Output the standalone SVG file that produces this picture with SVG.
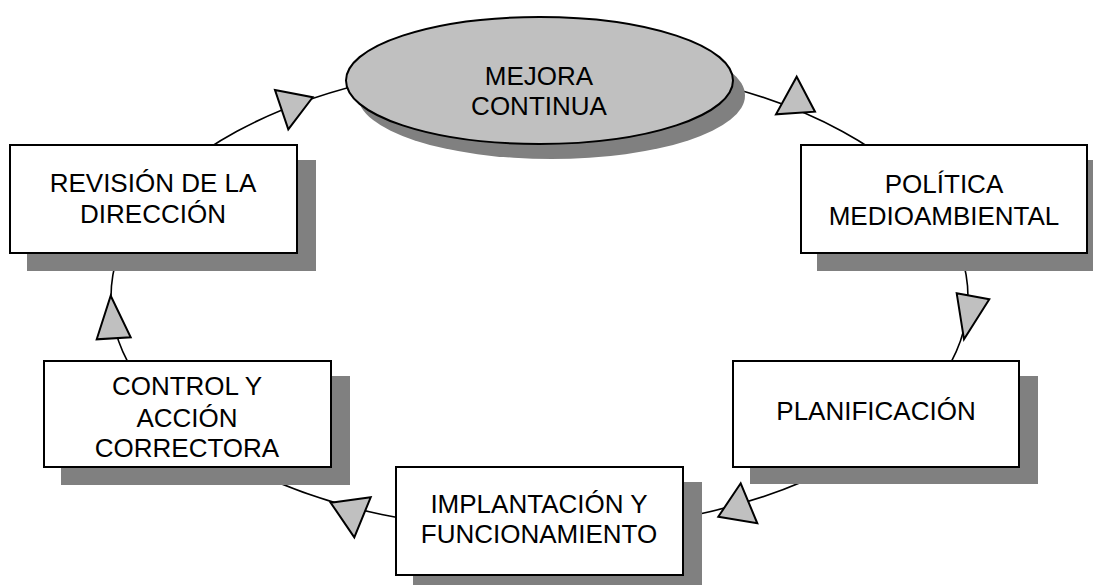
<svg xmlns="http://www.w3.org/2000/svg" width="1093" height="585" viewBox="0 0 1093 585">
<style>
.sh{fill:#808080;stroke:none}
.box{fill:#ffffff;stroke:#000000;stroke-width:2}
.oval{fill:#c0c0c0;stroke:#000000;stroke-width:2}
.tri{fill:#c0c0c0;stroke:#000000;stroke-width:2;stroke-linejoin:miter}
.conn{fill:none;stroke:#000000;stroke-width:1.6}
text{font-family:"Liberation Sans",Arial,sans-serif;font-size:26px;fill:#000000;text-anchor:middle}
</style>
<rect width="1093" height="585" fill="#ffffff"/>
<g id="connectors">
<ellipse class="conn" cx="539.5" cy="297" rx="428.5" ry="234"/>
<polygon class="tri" points="275,90 312.7,97.3 288.3,129.3"/>
<polygon class="tri" points="796.7,76.7 815,111.7 776,114.3"/>
<polygon class="tri" points="956.7,293.3 989.3,299.3 964,339.3"/>
<polygon class="tri" points="740.7,483.3 757.3,523.3 718.3,516.7"/>
<polygon class="tri" points="330.7,502.7 370.7,497.3 354.3,537.3"/>
<polygon class="tri" points="110.7,295.7 130.7,337.3 96.7,339.3"/>
</g>
<g id="mejora">
<ellipse class="sh" cx="551.5" cy="95.5" rx="193.5" ry="63.5"/>
<ellipse class="oval" cx="539.5" cy="80.5" rx="193.5" ry="63.5"/>
<text x="539" y="85">MEJORA</text>
<text x="539" y="115">CONTINUA</text>
</g>
<g id="politica">
<rect class="sh" x="817" y="160" width="286" height="111"/>
<rect class="box" x="801" y="145" width="286" height="108"/>
<text x="944" y="193">POLÍTICA</text>
<text x="944" y="225">MEDIOAMBIENTAL</text>
</g>
<g id="planificacion">
<rect class="sh" x="750" y="376" width="288" height="108"/>
<rect class="box" x="733" y="361" width="286" height="106"/>
<text x="876" y="420">PLANIFICACIÓN</text>
</g>
<g id="implantacion">
<rect class="sh" x="413" y="482" width="289" height="103"/>
<rect class="box" x="396" y="467" width="287" height="108"/>
<text x="539" y="513">IMPLANTACIÓN Y</text>
<text x="539" y="543">FUNCIONAMIENTO</text>
</g>
<g id="control">
<rect class="sh" x="61" y="376" width="289" height="109"/>
<rect class="box" x="44" y="361" width="287" height="106"/>
<text x="187" y="395">CONTROL Y</text>
<text x="187" y="427">ACCIÓN</text>
<text x="187" y="457">CORRECTORA</text>
</g>
<g id="revision">
<rect class="sh" x="27" y="160" width="289" height="111"/>
<rect class="box" x="10" y="145" width="287" height="108"/>
<text x="153" y="192">REVISIÓN DE LA</text>
<text x="153" y="223">DIRECCIÓN</text>
</g>
</svg>
